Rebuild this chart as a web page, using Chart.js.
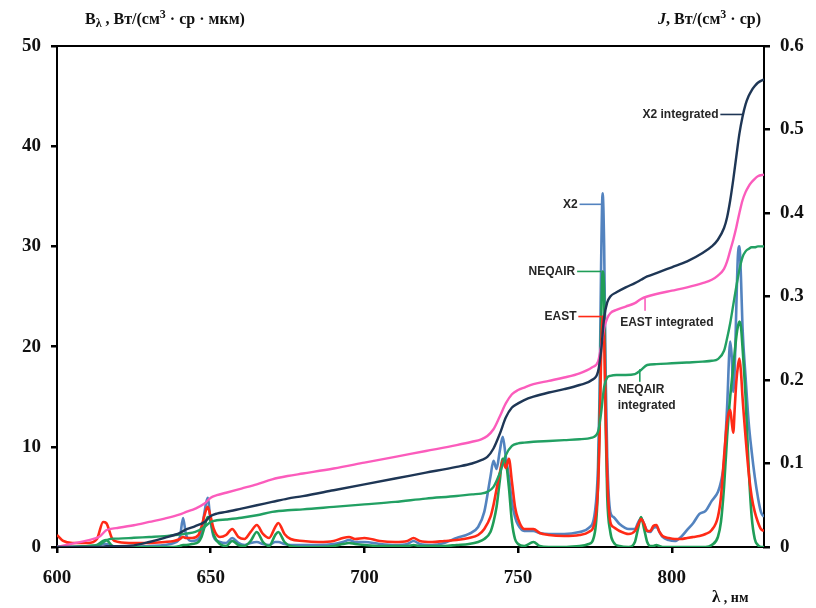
<!DOCTYPE html>
<html>
<head>
<meta charset="utf-8">
<script src="https://cdn.jsdelivr.net/npm/chart.js@4.4.1/dist/chart.umd.min.js"></script>
<style>
  html, body { margin: 0; padding: 0; background: #fff; }
  #wrap { width: 816px; height: 608px; }
</style>
</head>
<body>
<div id="wrap"><canvas id="c" width="816" height="608"></canvas></div>
<script>
// Spectral radiance B_lambda, W/(cm^3 sr um), on a common wavelength grid (nm)
const wavelengths = [
  600,602,605,610,613,615,616,618,620,625,
  630,635,638,640,641,642,644,646,647,648,
  649,650,651,653,655,657,659,661,663,665,
  667,669,671,672,674,676,680,685,690,693,
  695,697,700,705,710,714,716,718,722,726,
  730,734,737,739,741,742,743,744,745,746,
  747,748,749,750,752,755,757,760,765,770,
  773,775,776,776.5,777,777.5,778,778.5,779,780,
  781,783,786,788,789,790,791,792,793,794,
  795,796,797,799,801,803,805,807,809,811,
  813,815,816,817,818,819,819.5,820,820.5,821,
  821.5,822,822.5,823,824,825,826,827,828,829,
  830
];
const x2Spectrum = [
  0,0,0,0,0,0.3,0.3,0.1,0,0,
  0.1,0.2,0.4,1.0,2.9,1.2,0.6,0.8,1.5,3.5,
  4.9,2.5,1.0,0.5,0.4,0.9,0.4,0.2,0.4,0.5,
  0.3,0.2,0.5,0.5,0.3,0.2,0.2,0.2,0.3,0.5,
  0.7,0.5,0.5,0.3,0.2,0.3,0.6,0.3,0.2,0.4,
  0.9,1.3,2.0,3.5,7.0,8.6,7.8,9.5,11.0,9.0,
  7.0,4.5,3.0,2.2,1.6,1.6,1.4,1.3,1.3,1.5,
  1.9,3.5,8,15,28,35.3,30,17,9,3.5,
  3.0,2.3,1.8,1.8,2.4,2.9,2.3,1.6,1.5,1.9,
  2.0,1.5,1.0,0.7,0.6,1.0,1.7,2.4,3.3,3.6,
  4.6,5.5,6.5,8.5,14,20.5,19,15.5,18,24,
  29,30,27,22,17,12.5,9.5,7,5,3.5,
  3.0
];
const neqairSpectrum = [
  0,0,0,0.1,0.2,0.6,0.7,0.1,0,0,
  0,0,0,0.1,0.2,0.2,0.3,0.5,1.0,2.0,
  3.0,2.5,1.2,0.3,0.1,0.6,0.2,0.1,0.6,1.5,
  0.5,0.1,1.2,1.5,0.5,0.1,0,0,0.1,0.3,
  0.4,0.3,0.2,0.1,0.1,0.1,0.2,0.1,0.1,0.1,
  0.2,0.3,0.5,0.8,1.5,2.5,4.0,6.5,8.8,8.5,
  6.0,2.5,0.8,0.3,0.1,0.5,0.1,0,0,0.1,
  0.3,1.5,6,12,22,27.5,25,12,5,1.5,
  0.5,0.1,0,0.5,1.8,3.0,1.8,0.5,0.1,0.1,
  0.2,0.1,0,0,0,0,0,0,0,0,
  0.2,1.0,2.5,6,11,15,16.5,18,19.5,21,
  22,22.5,22,20,15,8,3,0.8,0.2,0,
  0
];
const eastSpectrum = [
  1.2,0.6,0.4,0.4,0.8,2.5,2.4,0.8,0.5,0.4,
  0.4,0.5,0.6,0.8,1.0,0.9,0.9,1.2,2.0,3.2,
  4.0,3.0,1.8,1.0,1.2,1.8,1.0,0.8,1.5,2.2,
  1.3,0.9,2.0,2.4,1.3,0.8,0.6,0.5,0.6,0.9,
  1.0,0.8,0.9,0.6,0.5,0.6,0.9,0.6,0.5,0.6,
  0.7,0.9,1.2,1.8,3.0,4.2,5.8,7.3,8.6,7.9,
  8.8,6.5,4.0,2.8,1.8,1.8,1.4,1.2,1.1,1.2,
  1.5,2.6,6,11,19,23,21,13,7,2.5,
  2.0,1.6,1.3,1.6,2.2,2.8,2.3,1.6,1.6,2.1,
  2.2,1.5,1.1,0.9,0.8,0.8,0.9,1.0,1.1,1.3,
  1.7,3.0,5,9,12.5,13.7,12.5,11.4,14,16.5,
  18,18.8,17.5,15,11,7.5,5,3.5,2.5,1.8,
  1.6
];

// Integrated radiance J, W/(cm^3 sr), cumulative from 600 nm
const integWavelengths = [
  600,605,610,614,616,618,620,625,630,635,
  640,642,645,648,650,652,655,660,665,670,
  675,680,690,700,710,720,730,735,738,740,
  742,744,746,748,750,752,755,760,765,770,
  774,776,777,778,779,780,782,785,788,790,
  792,795,800,805,810,813,815,817,818,819,
  820,821,822,823,824,825,826,827,828,830
];
const x2Integrated = [
  0,0,0,0,0.001,0.001,0.001,0.002,0.006,0.011,
  0.017,0.021,0.025,0.030,0.037,0.040,0.042,0.046,0.050,0.054,
  0.058,0.061,0.068,0.075,0.082,0.089,0.096,0.100,0.104,0.108,
  0.118,0.135,0.155,0.167,0.172,0.176,0.180,0.185,0.189,0.194,
  0.200,0.210,0.235,0.275,0.293,0.300,0.305,0.311,0.316,0.320,
  0.324,0.328,0.335,0.342,0.352,0.360,0.368,0.382,0.395,0.415,
  0.440,0.468,0.495,0.515,0.530,0.540,0.547,0.552,0.556,0.560
];
const eastIntegrated = [
  0,0.004,0.008,0.013,0.020,0.022,0.023,0.026,0.030,0.034,
  0.039,0.042,0.046,0.052,0.059,0.062,0.065,0.070,0.075,0.081,
  0.085,0.088,0.094,0.101,0.108,0.115,0.122,0.126,0.129,0.133,
  0.141,0.156,0.172,0.183,0.188,0.191,0.195,0.199,0.203,0.208,
  0.215,0.222,0.240,0.262,0.274,0.280,0.284,0.288,0.292,0.297,
  0.300,0.303,0.307,0.311,0.316,0.320,0.325,0.333,0.342,0.355,
  0.368,0.383,0.400,0.415,0.425,0.432,0.437,0.441,0.444,0.446
];
const neqairIntegrated = [
  0,0,0.001,0.003,0.008,0.010,0.010,0.011,0.012,0.013,
  0.015,0.016,0.018,0.024,0.030,0.032,0.033,0.035,0.038,0.042,
  0.044,0.045,0.048,0.051,0.054,0.058,0.061,0.063,0.064,0.066,
  0.072,0.088,0.110,0.121,0.124,0.125,0.126,0.127,0.128,0.129,
  0.131,0.138,0.160,0.192,0.203,0.205,0.206,0.206,0.207,0.212,
  0.218,0.219,0.220,0.221,0.222,0.223,0.225,0.235,0.250,0.268,
  0.290,0.312,0.332,0.347,0.354,0.357,0.359,0.359,0.360,0.360
];

// Axis ticks
const xTicks = [600, 650, 700, 750, 800];
const leftTicks = [0, 10, 20, 30, 40, 50];
const rightTicks = [0, 0.1, 0.2, 0.3, 0.4, 0.5, 0.6];

const pairs = (xs, ys) => xs.map((x, i) => ({ x, y: ys[i] }));

const COLORS = {
  x2: '#5383bf',
  neqair: '#1f9d57',
  east: '#ff2a16',
  x2Int: '#1e3655',
  eastInt: '#fb5cbc',
  neqairInt: '#22a063'
};

// Curve labels with short leader lines, anchored in data units
const curveLabels = [
  { lines: ['X2 integrated'], axis: 'y2', at: [815.2, 0.518], align: 'left-of', leader: [[815.8, 0.518], [823.0, 0.518]], color: COLORS.x2Int },
  { lines: ['X2'], axis: 'y', at: [769.4, 34.2], align: 'left-of', leader: [[770.0, 34.2], [777.0, 34.2]], color: COLORS.x2 },
  { lines: ['NEQAIR'], axis: 'y', at: [768.6, 27.5], align: 'left-of', leader: [[769.2, 27.5], [777.0, 27.5]], color: COLORS.neqair },
  { lines: ['EAST'], axis: 'y', at: [769.0, 23.0], align: 'left-of', leader: [[769.6, 23.0], [777.2, 23.0]], color: COLORS.east },
  { lines: ['EAST integrated'], axis: 'y2', at: [783.2, 0.269], align: 'right-of', leader: [[791.3, 0.283], [791.3, 0.298]], color: COLORS.eastInt },
  { lines: ['NEQAIR', 'integrated'], axis: 'y2', at: [782.4, 0.188], align: 'right-of', leader: [[789.6, 0.198], [789.6, 0.213]], color: COLORS.neqairInt }
];

const labelsPlugin = {
  id: 'curveLabels',
  afterDatasetsDraw(chart) {
    const ctx = chart.ctx;
    const xs = chart.scales.x;
    ctx.save();
    ctx.font = 'bold 12px "Liberation Sans", Arial, sans-serif';
    ctx.textBaseline = 'middle';
    for (const lab of curveLabels) {
      const ys = chart.scales[lab.axis];
      ctx.strokeStyle = lab.color;
      ctx.lineWidth = 1.6;
      ctx.beginPath();
      ctx.moveTo(xs.getPixelForValue(lab.leader[0][0]), ys.getPixelForValue(lab.leader[0][1]));
      ctx.lineTo(xs.getPixelForValue(lab.leader[1][0]), ys.getPixelForValue(lab.leader[1][1]));
      ctx.stroke();
      ctx.fillStyle = '#262626';
      ctx.textAlign = lab.align === 'left-of' ? 'right' : 'left';
      const px = xs.getPixelForValue(lab.at[0]);
      const py = ys.getPixelForValue(lab.at[1]);
      lab.lines.forEach((t, i) => ctx.fillText(t, px, py + i * 16));
    }
    ctx.restore();
  }
};

// Rich-text axis titles (subscripts / superscripts), plus top frame line
function drawRich(ctx, x, y, parts) {
  let cx = x;
  for (const p of parts) {
    ctx.font = p.font;
    ctx.fillText(p.t, cx, y + (p.dy || 0));
    cx += ctx.measureText(p.t).width;
  }
}
const SERIF = '"Liberation Serif", "Times New Roman", serif';
const titlesPlugin = {
  id: 'axisTitles',
  afterDraw(chart) {
    const ctx = chart.ctx;
    const a = chart.chartArea;
    ctx.save();
    ctx.strokeStyle = '#000';
    ctx.lineWidth = 2;
    ctx.beginPath();
    ctx.moveTo(a.left - 1, a.top);
    ctx.lineTo(a.right + 1, a.top);
    ctx.stroke();

    ctx.fillStyle = '#111';
    ctx.textBaseline = 'alphabetic';
    ctx.textAlign = 'left';
    const big = 'bold 16px ' + SERIF;
    const small = 'bold 12px ' + SERIF;
    drawRich(ctx, 85, 24, [
      { t: 'B', font: big },
      { t: 'λ', font: small, dy: 3 },
      { t: ' , Вт/(см', font: big },
      { t: '3', font: small, dy: -6 },
      { t: ' · ср · мкм)', font: big }
    ]);
    drawRich(ctx, 658, 24, [
      { t: 'J', font: 'italic bold 16px ' + SERIF },
      { t: ', Вт/(см', font: big },
      { t: '3', font: small, dy: -6 },
      { t: ' · ср)', font: big }
    ]);
    drawRich(ctx, 712, 602, [
      { t: 'λ', font: 'bold 17px ' + SERIF },
      { t: ' , нм', font: 'bold 14px ' + SERIF }
    ]);
    ctx.restore();
  }
};

const tickFont = { family: SERIF, weight: 'bold', size: 19 };
const axisGrid = { display: true, drawOnChartArea: false, drawTicks: true, tickLength: 6, color: '#000', lineWidth: 2.5 };

const lineDs = (label, xs, ys, color, axis, order, width) => ({
  label,
  data: pairs(xs, ys),
  yAxisID: axis,
  borderColor: color,
  backgroundColor: color,
  borderWidth: width,
  pointRadius: 0,
  fill: false,
  cubicInterpolationMode: 'monotone',
  order
});

new Chart(document.getElementById('c'), {
  type: 'line',
  data: {
    datasets: [
      lineDs('X2', wavelengths, x2Spectrum, COLORS.x2, 'y', 6, 2.6),
      lineDs('NEQAIR', wavelengths, neqairSpectrum, COLORS.neqair, 'y', 5, 2.6),
      lineDs('EAST', wavelengths, eastSpectrum, COLORS.east, 'y', 4, 2.6),
      lineDs('NEQAIR integrated', integWavelengths, neqairIntegrated, COLORS.neqairInt, 'y2', 3, 2.4),
      lineDs('EAST integrated', integWavelengths, eastIntegrated, COLORS.eastInt, 'y2', 2, 2.4),
      lineDs('X2 integrated', integWavelengths, x2Integrated, COLORS.x2Int, 'y2', 1, 2.4)
    ]
  },
  options: {
    responsive: false,
    animation: false,
    devicePixelRatio: 1,
    layout: { padding: { top: 46, right: 0, bottom: 0, left: 0 } },
    plugins: { legend: { display: false }, tooltip: { enabled: false }, title: { display: false } },
    scales: {
      x: {
        type: 'linear',
        min: 600, max: 830,
        afterBuildTicks: s => { s.ticks = xTicks.map(v => ({ value: v })); },
        afterFit: s => { s.height = 61; },
        border: { display: true, color: '#000', width: 2 },
        grid: axisGrid,
        ticks: { font: tickFont, color: '#111', padding: 14, maxRotation: 0 }
      },
      y: {
        position: 'left',
        min: 0, max: 50,
        afterBuildTicks: s => { s.ticks = leftTicks.map(v => ({ value: v })); },
        afterFit: s => { s.width = 57; },
        border: { display: true, color: '#000', width: 2 },
        grid: axisGrid,
        ticks: { font: tickFont, color: '#111', padding: 10 }
      },
      y2: {
        position: 'right',
        min: 0, max: 0.6,
        afterBuildTicks: s => { s.ticks = rightTicks.map(v => ({ value: v })); },
        afterFit: s => { s.width = 52; },
        border: { display: true, color: '#000', width: 2 },
        grid: axisGrid,
        ticks: { font: tickFont, color: '#111', padding: 10, callback: v => String(Math.round(v * 10) / 10) }
      }
    }
  },
  plugins: [labelsPlugin, titlesPlugin]
});
</script>
</body>
</html>
